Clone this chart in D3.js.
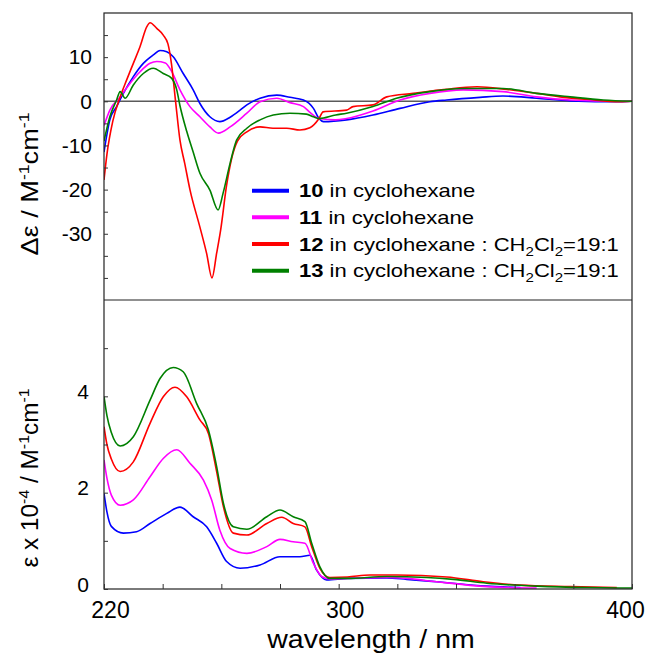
<!DOCTYPE html>
<html>
<head>
<meta charset="utf-8">
<script src="https://cdn.jsdelivr.net/npm/d3@7.9.0/dist/d3.min.js"></script>
<style>
  body { margin: 0; background: #fff; }
  text { font-family: "Liberation Sans", Arial, sans-serif; fill: #000; }
</style>
</head>
<body>
<svg id="chart" width="654" height="653"></svg>
<script>
// CD spectra: [wavelength nm, delta epsilon]
const cd10 = [[220,-11.5],[222,-4.2],[224.3,-1.2],[226.6,1.8],[230,5.6],[233.4,8.6],[236.8,10.5],[239.1,11.5],[241.4,11.2],[243.6,10.1],[247,6.3],[250.4,2.6],[252.7,-0.5],[256.1,-3.5],[259.5,-4.6],[263,-3.6],[266.4,-2],[268.7,-0.8],[273.2,0.7],[278.9,1.4],[283.4,0.9],[288,0.3],[291.4,-1.6],[293.3,-3.9],[294.8,-4.6],[302.7,-4.2],[311.7,-3.1],[320.9,-1.6],[331.1,-0.1],[336.8,0.3],[348.2,0.9],[356,1.2],[367.5,0.7],[378.9,0.1],[395.9,-0.1],[400,0]];
const cd11 = [[220,-5.5],[222,-2],[225.5,1],[228.9,4.1],[232.3,6.7],[235.7,8.6],[238,9],[240.9,8.7],[243.1,6.7],[245.9,2.6],[249.3,-1.2],[252.7,-3.5],[256.1,-5.8],[259,-7.2],[263,-5.8],[268.7,-2.7],[273.2,-0.1],[278.9,0.7],[283.4,-0.3],[288,-1.2],[290.2,-2.5],[293.3,-3.9],[299,-4.2],[302.7,-3.9],[311.7,-2.2],[320.9,0.3],[331.1,1.8],[342.4,2.6],[356,2.2],[367.5,1],[378.9,0.3],[395.9,0],[400,0]];
const cd12 = [[220,-17.8],[221,-12],[223,-4.5],[225.5,1],[227.7,4.8],[230,8.6],[232.3,12.4],[234.6,16.9],[235.7,17.8],[238,16.5],[240.2,15],[241.8,13],[243,8.5],[244.4,0],[245.9,-8.8],[247.5,-14],[249.3,-20],[252.7,-28.5],[255,-34.5],[256.8,-40],[258.4,-34.4],[259.8,-29],[261.8,-19],[263.5,-13],[265.5,-9],[268.7,-6.9],[273.2,-5.8],[277.6,-6.1],[282.3,-6.1],[286.8,-6.5],[290.2,-6],[293.3,-3.9],[294.7,-2.4],[302.7,-2],[304.9,-1.2],[311.7,-0.8],[316.4,1],[325.4,1.8],[332.2,2.4],[336.8,2.7],[339,2.9],[347.2,3.3],[357.3,2.7],[367.5,1.8],[375.5,1],[384.6,0.45],[395.9,-0.1],[400,0]];
const cd13 = [[220,-9],[222,-3.5],[224.3,0.3],[225.5,2.2],[227.2,0.7],[230,3.7],[233.4,6.3],[236.8,7.5],[240.2,6.3],[243.1,5.2],[244.8,2.6],[245.9,-1],[248.2,-6.8],[250.4,-11.5],[252.7,-16.3],[256.1,-20.1],[258.9,-24.6],[260.6,-20.8],[263,-14],[265.2,-8.8],[268.7,-6.1],[273.2,-4.2],[277.7,-3.1],[283.4,-2.7],[289,-2.9],[291.4,-3.5],[293.3,-3.9],[299,-3.1],[302.7,-2.7],[311.7,-1.2],[319.7,0.7],[331.1,2.2],[342.4,2.9],[356,2.9],[367.5,1.8],[378.9,1],[390.2,0.3],[400,0]];

// UV spectra: [wavelength nm, epsilon x 10^-4]
const uv10 = [[220,1.99],[221,1.6],[222.5,1.3],[226.6,1.16],[231.1,1.19],[235.7,1.36],[241.4,1.57],[245.9,1.7],[250.4,1.5],[255,1.29],[258.4,0.95],[261.8,0.57],[266.4,0.43],[273.2,0.5],[280,0.67],[286.8,0.67],[290.2,0.7],[292.5,0.39],[295.9,0.19],[303,0.22],[316.4,0.23],[323.2,0.2],[333.4,0.15],[350.5,0.06],[362,0.03]];
const uv11 = [[220,2.68],[221,2.3],[222.5,1.95],[225.5,1.74],[230,1.85],[235.7,2.33],[240.2,2.71],[244.8,2.89],[249.3,2.61],[253.9,2.26],[256.7,1.85],[259.5,1.22],[263,0.84],[268.7,0.74],[275.5,0.88],[280,1.03],[284.5,0.98],[288.5,0.95],[291.4,0.53],[294.2,0.26],[297,0.21],[303,0.22],[316.4,0.24],[323.2,0.22],[333.4,0.15],[350.5,0.05],[367.5,0.02]];
const uv12 = [[220,3.37],[221,3.0],[222.5,2.7],[225.5,2.44],[230,2.64],[235.7,3.44],[240.2,3.99],[244.2,4.19],[248.2,3.99],[252.7,3.51],[255.6,3.23],[258.4,2.44],[260.7,1.71],[264.1,1.16],[268.7,1.12],[275.5,1.36],[280.6,1.49],[284.5,1.36],[288.5,1.29],[290.8,0.88],[293.6,0.43],[297,0.24],[303,0.25],[310.7,0.29],[319.8,0.29],[336.8,0.25],[349.3,0.15],[361.8,0.08],[378.9,0.05],[394.8,0.03]];
const uv13 = [[220,4.0],[221,3.6],[222.5,3.25],[225.5,2.97],[230,3.16],[235.7,3.92],[239.1,4.37],[243.6,4.6],[247,4.51],[251.6,3.85],[255.6,3.3],[258.4,2.54],[260.7,1.78],[264.1,1.29],[268.7,1.24],[275.5,1.5],[280,1.64],[284.5,1.5],[288.5,1.4],[290.8,0.95],[293.6,0.46],[297,0.22],[303,0.22],[316.4,0.26],[330,0.24],[339.1,0.2],[350.5,0.12],[367.5,0.06],[385,0.03],[400,0.02]];

const xTicks = [220, 240, 260, 280, 300, 320, 340, 360, 380, 400];
const xLabels = [220, 300, 400];
const cdTicks = [15, 10, 5, 0, -5, -10, -15, -20, -25, -30, -35, -40];
const cdLabels = [10, 0, -10, -20, -30];
const uvTicks = [0, 1, 2, 3, 4, 5];
const uvLabels = [0, 2, 4];

const seriesIds = ['10', '11', '12', '13'];
const seriesColors = ['#0000ff', '#ff00ff', '#ff0000', '#008000'];
const legendSolvent = ['in cyclohexane', 'in cyclohexane', 'in cyclohexane : CH', 'in cyclohexane : CH'];

const svg = d3.select('#chart');
const pLeft = 104, pRight = 632, pTop = 13, pMid = 300, pBottom = 589;

const x = d3.scaleLinear().domain([220, 400]).range([pLeft, pRight]);
const yCD = d3.scaleLinear().domain([-45, 20]).range([pMid, pTop]);
const yUV = d3.scaleLinear().domain([0, 6]).range([pBottom, pMid]);

const defs = svg.append('defs');
defs.append('clipPath').attr('id', 'clipTop')
  .append('rect').attr('x', pLeft).attr('y', pTop).attr('width', pRight - pLeft).attr('height', pMid - pTop);
defs.append('clipPath').attr('id', 'clipBottom')
  .append('rect').attr('x', pLeft).attr('y', pMid).attr('width', pRight - pLeft).attr('height', pBottom - pMid);

// zero line in CD panel
svg.append('line')
  .attr('x1', pLeft).attr('x2', pRight)
  .attr('y1', yCD(0)).attr('y2', yCD(0))
  .attr('stroke', '#5a5a5a').attr('stroke-width', 1.6);

const lineCD = d3.line().curve(d3.curveMonotoneX).x(d => x(d[0])).y(d => yCD(d[1]));
const lineUV = d3.line().curve(d3.curveMonotoneX).x(d => x(d[0])).y(d => yUV(d[1]));

const gTop = svg.append('g').attr('clip-path', 'url(#clipTop)');
[cd10, cd11, cd12, cd13].forEach((s, i) => {
  gTop.append('path').datum(s)
    .attr('d', lineCD)
    .attr('fill', 'none')
    .attr('stroke', seriesColors[i])
    .attr('stroke-width', 1.6)
    .attr('stroke-linejoin', 'round');
});

const gBot = svg.append('g').attr('clip-path', 'url(#clipBottom)');
[uv10, uv11, uv12, uv13].forEach((s, i) => {
  gBot.append('path').datum(s)
    .attr('d', lineUV)
    .attr('fill', 'none')
    .attr('stroke', seriesColors[i])
    .attr('stroke-width', 1.6)
    .attr('stroke-linejoin', 'round');
});

// frame
svg.append('rect')
  .attr('x', pLeft).attr('y', pTop)
  .attr('width', pRight - pLeft).attr('height', pBottom - pTop)
  .attr('fill', 'none').attr('stroke', '#222').attr('stroke-width', 1.2);
svg.append('line')
  .attr('x1', pLeft).attr('x2', pRight).attr('y1', pMid).attr('y2', pMid)
  .attr('stroke', '#222').attr('stroke-width', 1.2);

function styleAxis(g, size) {
  g.select('.domain').remove();
  g.selectAll('.tick line').attr('stroke', '#333');
  g.attr('font-family', '"Liberation Sans", Arial, sans-serif').attr('font-size', size);
}

// left axes
svg.append('g')
  .attr('transform', `translate(${pLeft},0)`)
  .call(d3.axisLeft(yCD).tickValues(cdTicks).tickSize(-4).tickPadding(12)
    .tickFormat(d => cdLabels.includes(d) ? d : ''))
  .call(g => styleAxis(g, 21));

svg.append('g')
  .attr('transform', `translate(${pLeft},0)`)
  .call(d3.axisLeft(yUV).tickValues(uvTicks).tickSize(-4).tickPadding(15)
    .tickFormat(d => uvLabels.includes(d) ? d : ''))
  .call(g => styleAxis(g, 21))
  .call(g => g.selectAll('text').attr('dy', '0.1em'));

// bottom axis
svg.append('g')
  .attr('transform', `translate(0,${pBottom})`)
  .call(d3.axisBottom(x).tickValues(xTicks).tickSize(-5).tickPadding(13)
    .tickFormat(d => xLabels.includes(d) ? d : ''))
  .call(g => styleAxis(g, 23))
  .call(g => g.selectAll('text').attr('dx', d => d === 400 ? -7 : 6));

// axis titles
const yt1 = svg.append('text')
  .attr('transform', 'translate(38,184) rotate(-90) scale(1.18,1)')
  .attr('text-anchor', 'middle')
  .attr('font-size', 23);
yt1.append('tspan').text('Δε / M');
yt1.append('tspan').attr('dy', -9).attr('font-size', 15).text('-1');
yt1.append('tspan').attr('dy', 9).text('cm');
yt1.append('tspan').attr('dy', -9).attr('font-size', 15).text('-1');

const yt2 = svg.append('text')
  .attr('transform', 'translate(38,478) rotate(-90) scale(1.06,1)')
  .attr('text-anchor', 'middle')
  .attr('font-size', 23);
yt2.append('tspan').text('ε x 10');
yt2.append('tspan').attr('dy', -9).attr('font-size', 15).text('-4');
yt2.append('tspan').attr('dy', 9).text(' / M');
yt2.append('tspan').attr('dy', -9).attr('font-size', 15).text('-1');
yt2.append('tspan').attr('dy', 9).text('cm');
yt2.append('tspan').attr('dy', -9).attr('font-size', 15).text('-1');

svg.append('text')
  .attr('transform', 'translate(371,648) scale(1.14,1)')
  .attr('text-anchor', 'middle')
  .attr('font-size', 25)
  .text('wavelength / nm');

// legend
const legendY = d3.scalePoint().domain(seriesIds).range([190.7, 270.7]);
seriesIds.forEach((id, i) => {
  const yy = legendY(id);
  svg.append('line')
    .attr('x1', 252).attr('x2', 289).attr('y1', yy).attr('y2', yy)
    .attr('stroke', seriesColors[i]).attr('stroke-width', 4);
  const t = svg.append('text')
    .attr('transform', `translate(299,${yy + 6.5}) scale(1.16,1)`)
    .attr('font-size', 19);
  t.append('tspan').attr('font-weight', 'bold').text(id);
  t.append('tspan').text(' ' + legendSolvent[i]);
  if (i >= 2) {
    t.append('tspan').attr('dy', 5).attr('font-size', 13).text('2');
    t.append('tspan').attr('dy', -5).text('Cl');
    t.append('tspan').attr('dy', 5).attr('font-size', 13).text('2');
    t.append('tspan').attr('dy', -5).text('=19:1');
  }
});
</script>
</body>
</html>
